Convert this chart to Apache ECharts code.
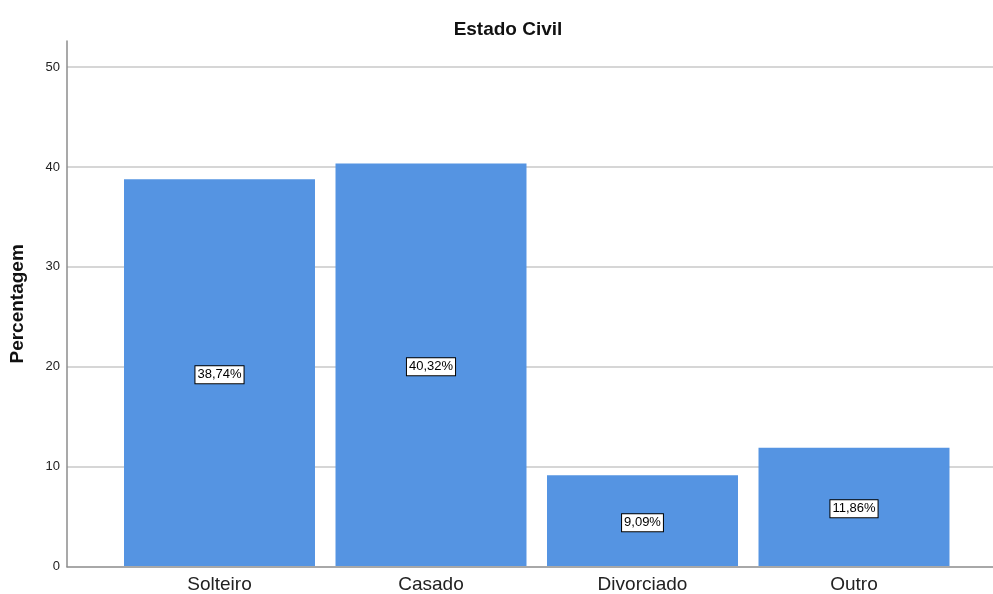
<!DOCTYPE html>
<html>
<head>
<meta charset="utf-8">
<script src="https://cdn.jsdelivr.net/npm/echarts@6/dist/echarts.min.js"></script>
<style>html,body{margin:0;padding:0;background:#fff}#c{width:993px;height:594px}</style>
</head>
<body>
<div id="c"></div>
<script>
var categories = ['Solteiro', 'Casado', 'Divorciado', 'Outro'];
var percentages = [38.74, 40.32, 9.09, 11.86];
var yTicks = [0, 10, 20, 30, 40, 50];

var chart = echarts.init(document.getElementById('c'), null, {renderer: 'canvas'});
var FONT = 'Liberation Sans, Arial, sans-serif';
var yMax = 52.6;
var option = {
  animation: false,
  backgroundColor: '#ffffff',
  title: {
    text: 'Estado Civil',
    left: 503, top: 15, textAlign: 'center',
    textStyle: {fontFamily: FONT, fontSize: 19, fontWeight: 'bold', color: '#111'}
  },
  grid: [
    {left: 66.5, right: 0, top: 41, bottom: 27.3},
    {left: 113.75, right: 33.25, top: 41, bottom: 27.3}
  ],
  xAxis: [
    {gridIndex: 0, type: 'value', min: 0, max: 1,
     axisLine: {show: true, lineStyle: {color: '#8c8c8c', width: 1.5}},
     axisTick: {show: false}, axisLabel: {show: false}, splitLine: {show: false}},
    {gridIndex: 1, type: 'category', data: categories,
     axisLine: {show: false}, axisTick: {show: false},
     axisLabel: {fontFamily: FONT, fontSize: 19, color: '#222', margin: 9}}
  ],
  yAxis: [
    {gridIndex: 0, type: 'value', min: 0, max: yMax, interval: 10,
     name: 'Percentagem', nameLocation: 'middle', nameGap: 40, nameRotate: 90,
     nameTextStyle: {fontFamily: FONT, fontSize: 19, fontWeight: 'bold', color: '#111'},
     axisLine: {show: true, lineStyle: {color: '#8c8c8c', width: 1.5}},
     axisTick: {show: false},
     axisLabel: {fontFamily: FONT, fontSize: 13, color: '#222', margin: 7, showMaxLabel: false,
       formatter: function (v) { return yTicks.indexOf(v) >= 0 ? String(v) : ''; }},
     splitLine: {show: true, showMinLine: false, showMaxLine: false, lineStyle: {color: '#c8c8c8', width: 1.5}}},
    {gridIndex: 1, type: 'value', min: 0, max: yMax, show: false, splitLine: {show: false}}
  ],
  series: [{
    type: 'bar',
    xAxisIndex: 1, yAxisIndex: 1,
    data: percentages,
    barCategoryGap: '9.7%',
    itemStyle: {color: '#5594e2'},
    label: {
      show: true, position: 'inside', offset: [0, 2],
      formatter: function (p) { return p.value.toFixed(2).replace('.', ',') + '%'; },
      fontFamily: FONT, fontSize: 13, color: '#000',
      backgroundColor: '#fff', borderColor: '#000', borderWidth: 1, padding: [3, 2, 1, 2]
    }
  }]
};
chart.setOption(option);
</script>
</body>
</html>
